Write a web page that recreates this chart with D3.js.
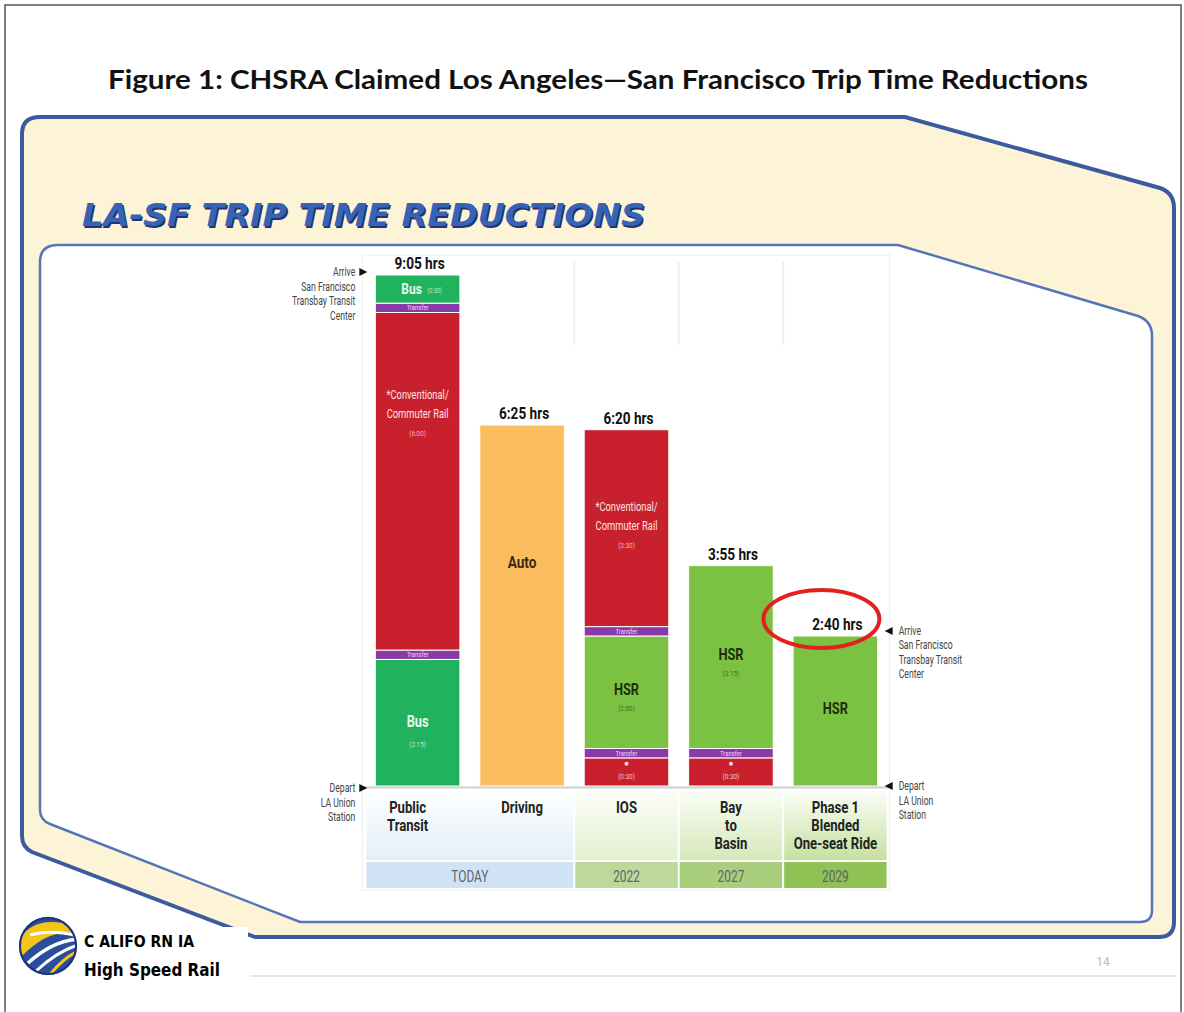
<!DOCTYPE html>
<html>
<head>
<meta charset="utf-8">
<script src="https://cdn.jsdelivr.net/npm/d3@7"></script>
<style>
  html, body { margin: 0; padding: 0; background: #fff; }
  svg { display: block; }
</style>
</head>
<body>
<div id="chart"></div>
<script>
// Bars, bottom leg first. [mode, minutes, time shown in the bar]
var categories = ['Public Transit', 'Driving', 'IOS', 'Bay to Basin', 'Phase 1 Blended One-seat Ride'];
var categoryLines = [['Public', 'Transit'], ['Driving'], ['IOS'], ['Bay', 'to', 'Basin'], ['Phase 1', 'Blended', 'One-seat Ride']];
var totalLabels = ['9:05 hrs', '6:25 hrs', '6:20 hrs', '3:55 hrs', '2:40 hrs'];

var publicTransitLegs = [['bus', 135, '(2:15)'], ['transfer', 10, ''], ['rail', 360, '(6:00)'], ['transfer', 10, ''], ['busTop', 30, '(0:30)']];
var drivingLegs = [['auto', 385, '']];
var iosLegs = [['railShort', 30, '(0:30)'], ['transfer', 10, ''], ['hsr', 120, '(2:00)'], ['transfer', 10, ''], ['rail', 210, '(3:30)']];
var bayToBasinLegs = [['railShort', 30, '(0:30)'], ['transfer', 10, ''], ['hsr', 195, '(3:15)']];
var phase1Legs = [['hsr', 160, '']];

var eraLabels = ['TODAY', '2022', '2027', '2029'];
var eraSpans = [[0, 1], [2, 2], [3, 3], [4, 4]];

(function() {
    'use strict';

    var W = 1184, H = 1012;
    var allLegs = [publicTransitLegs, drivingLegs, iosLegs, bayToBasinLegs, phase1Legs];

    var modeColors = {
        bus: '#20b25c', busTop: '#20b25c',
        transfer: '#8a3aa6',
        rail: '#c8202c', railShort: '#c8202c',
        auto: '#fbbd5e',
        hsr: '#7cc242'
    };

    var svg = d3.select('#chart').append('svg')
        .attr('width', W).attr('height', H)
        .attr('viewBox', [0, 0, W, H].join(' '));

    var defs = svg.append('defs');

    // condensed-looking text: normal font squeezed horizontally
    function label(parent, x, y, str, o) {
        o = o || {};
        return parent.append('text')
            .attr('transform', 'translate(' + x + ',' + y + ') scale(' + (o.sx || 0.8) + ',1)')
            .attr('text-anchor', o.anchor || 'middle')
            .attr('font-family', o.family || 'Roboto, "Open Sans", sans-serif')
            .attr('font-size', o.size || 12)
            .attr('font-weight', o.weight || 400)
            .attr('fill', o.fill || '#222')
            .text(str);
    }

    // Page frame
    svg.append('rect')
        .attr('x', 5).attr('y', 5).attr('width', 1176).attr('height', 1030)
        .attr('fill', '#fff').attr('stroke', '#555').attr('stroke-width', 1.5);

    svg.append('text')
        .attr('x', 598).attr('y', 89)
        .attr('text-anchor', 'middle')
        .attr('font-family', 'Lato, "Open Sans", sans-serif')
        .attr('font-weight', 700).attr('font-size', 26)
        .attr('textLength', 980).attr('lengthAdjust', 'spacingAndGlyphs')
        .attr('fill', '#111')
        .text('Figure 1: CHSRA Claimed Los Angeles\u2014San Francisco Trip Time Reductions');

    // Slide shapes
    svg.append('path')
        .attr('d', 'M22,134 Q22,117 40,117 L905,117 L1160,188 Q1174,193 1174,208 L1174,922 Q1174,937 1159,937 L255,937 L32,852 Q22,847 22,836 Z')
        .attr('fill', '#fdf4d8').attr('stroke', '#3d5a9e').attr('stroke-width', 4);
    svg.append('path')
        .attr('d', 'M40,262 Q40,245 58,245 L898,245 L1138,316 Q1152,321 1152,336 L1152,910 Q1152,922 1140,922 L300,922 L50,824 Q40,820 40,810 Z')
        .attr('fill', '#fff').attr('stroke', '#5575b8').attr('stroke-width', 2.5);

    // Slide heading with a dark shadow
    [['#1f3470', 1.5], ['#3663b5', 0]].forEach(function(s) {
        svg.append('text')
            .attr('x', 82 + s[1]).attr('y', 226 + s[1])
            .attr('font-family', '"DejaVu Sans", Verdana, sans-serif')
            .attr('font-style', 'italic').attr('font-weight', 700).attr('font-size', 32)
            .attr('textLength', 563).attr('lengthAdjust', 'spacingAndGlyphs')
            .attr('fill', s[0])
            .text('LA-SF TRIP TIME REDUCTIONS');
    });

    // Scales
    var x = d3.scaleBand().domain(categories).range([368, 885]).paddingInner(0.19).paddingOuter(0.07);
    var y = d3.scaleLinear().domain([0, 545]).range([786, 275]);
    var bw = x.bandwidth();
    var step = x.step();

    // Chart panel
    var panelL = x(categories[0]) - 13, panelR = x(categories[4]) + bw + 12;
    svg.append('rect')
        .attr('x', panelL).attr('y', 255).attr('width', panelR - panelL).attr('height', 635)
        .attr('fill', '#fff').attr('stroke', '#ececec');

    // faint column separators at the top of the panel
    categories.slice(2).forEach(function(c) {
        var sx = x(c) - (step - bw) / 2;
        svg.append('line')
            .attr('x1', sx).attr('x2', sx).attr('y1', 262).attr('y2', 345)
            .attr('stroke', '#f0f0f0').attr('stroke-width', 2);
    });

    // Bottom label backgrounds
    var gBlue = defs.append('linearGradient').attr('id', 'gBlue').attr('x1', 0).attr('y1', 0).attr('x2', 0).attr('y2', 1);
    gBlue.append('stop').attr('offset', '0%').attr('stop-color', '#ffffff');
    gBlue.append('stop').attr('offset', '100%').attr('stop-color', '#e2eff9');
    var greens = ['#e3efd0', '#d5e8b8', '#c6e0a0'];
    greens.forEach(function(c, i) {
        var g = defs.append('linearGradient').attr('id', 'gGreen' + i).attr('x1', 0).attr('y1', 0).attr('x2', 0).attr('y2', 1);
        g.append('stop').attr('offset', '0%').attr('stop-color', '#fbfdf6');
        g.append('stop').attr('offset', '100%').attr('stop-color', c);
    });
    var eraFill = ['#cfe3f5', '#bcd99a', '#a9cf7c', '#8fc155'];
    var eraG = svg.append('g');
    eraSpans.forEach(function(span, i) {
        var x0 = x(categories[span[0]]) - (step - bw) / 2 + 1;
        var x1 = x(categories[span[1]]) + bw + (step - bw) / 2 - 1;
        eraG.append('rect')
            .attr('x', x0).attr('y', 791).attr('width', x1 - x0).attr('height', 69)
            .attr('fill', i === 0 ? 'url(#gBlue)' : 'url(#gGreen' + (i - 1) + ')');
        eraG.append('rect')
            .attr('x', x0).attr('y', 862).attr('width', x1 - x0).attr('height', 26)
            .attr('fill', eraFill[i]);
        label(eraG, (x0 + x1) / 2, 882, eraLabels[i], { size: 17, fill: '#5d6470', sx: 0.7 });
    });

    // Bars
    var barsG = svg.append('g');
    allLegs.forEach(function(legs, ci) {
        var cx = x(categories[ci]) + bw / 2;
        var acc = 0;
        var stacked = legs.map(function(l) {
            var s = { mode: l[0], min: l[1], time: l[2], y0: acc, y1: acc + l[1] };
            acc += l[1];
            return s;
        });
        var col = barsG.append('g');
        col.selectAll('rect')
            .data(stacked)
            .join('rect')
            .attr('x', x(categories[ci]))
            .attr('width', bw)
            .attr('y', function(d) { return y(d.y1); })
            .attr('height', function(d) { return y(d.y0) - y(d.y1); })
            .attr('fill', function(d) { return modeColors[d.mode]; })
            .attr('stroke', '#fff').attr('stroke-width', 1);

        stacked.forEach(function(d) {
            var top = y(d.y1), bot = y(d.y0), mid = (top + bot) / 2;
            if (d.mode === 'transfer') {
                label(col, cx, mid + 2.5, 'Transfer', { size: 7, fill: '#f0d8f5', sx: 0.85 });
            } else if (d.mode === 'busTop') {
                label(col, cx - 6, mid + 5, 'Bus', { size: 15, weight: 700, fill: '#e8f8ee' });
                label(col, cx + 17, mid + 4, d.time, { size: 7, fill: '#bfeacd' });
            } else if (d.mode === 'bus') {
                label(col, cx, mid + 4, 'Bus', { size: 16, weight: 700, fill: '#e8f8ee' });
                label(col, cx, mid + 24, d.time, { size: 8, fill: '#bfeacd' });
            } else if (d.mode === 'rail') {
                var ly = Math.min(mid, top + 103);
                label(col, cx, ly - 17, '*Conventional/', { size: 12, fill: '#fbe3e3', sx: 0.78 });
                label(col, cx, ly + 2, 'Commuter Rail', { size: 12, fill: '#fbe3e3', sx: 0.78 });
                label(col, cx, ly + 20, d.time, { size: 8, fill: '#f2b9b9' });
            } else if (d.mode === 'railShort') {
                col.append('circle').attr('cx', cx).attr('cy', top + 6).attr('r', 2).attr('fill', '#fde');
                label(col, cx, top + 21, d.time, { size: 8, fill: '#f6c9c9' });
            } else if (d.mode === 'hsr') {
                label(col, cx, mid + 3, 'HSR', { size: 16, weight: 700, fill: '#1f2d10' });
                if (d.time) label(col, cx, mid + 19, d.time, { size: 8, fill: '#4c6b2a' });
            } else if (d.mode === 'auto') {
                label(col, cx, 568, 'Auto', { size: 17, weight: 700, fill: '#3a2a10' });
            }
        });

        label(barsG, cx + 2, y(acc) - 6, totalLabels[ci], { size: 17, weight: 700, fill: '#111', sx: 0.8 });

        categoryLines[ci].forEach(function(t, li) {
            label(barsG, ci === 0 ? cx - 10 : cx, 813 + li * 18, t, { size: 16, weight: 700, fill: '#222', sx: 0.82 });
        });
    });

    // Baseline
    svg.append('line')
        .attr('x1', panelL).attr('x2', panelR)
        .attr('y1', y(0) + 1.5).attr('y2', y(0) + 1.5)
        .attr('stroke', '#cfcfcf').attr('stroke-width', 2);

    // Arrive / Depart notes
    var notes = svg.append('g');
    function note(xText, yTop, lines, side) {
        var ax = side === 'left' ? xText + 4 : xText - 4;
        var tri = side === 'left'
            ? [[ax, yTop - 8], [ax + 8, yTop - 4], [ax, yTop]]
            : [[ax, yTop - 8], [ax - 8, yTop - 4], [ax, yTop]];
        notes.append('path').attr('d', d3.line()(tri) + 'Z').attr('fill', '#111');
        lines.forEach(function(t, i) {
            label(notes, xText + (side === 'left' ? 0 : 2), yTop + i * 14.5, t, {
                size: 12, fill: '#444', anchor: side === 'left' ? 'end' : 'start', sx: 0.72
            });
        });
    }
    var leftX = x(categories[0]) - 20;
    var rightX = x(categories[4]) + bw + 19;
    note(leftX, y(545) + 1, ['Arrive', 'San Francisco', 'Transbay Transit', 'Center'], 'left');
    note(leftX, y(0) + 6, ['Depart', 'LA Union', 'Station'], 'left');
    note(rightX, y(160) - 1, ['Arrive', 'San Francisco', 'Transbay Transit', 'Center'], 'right');
    note(rightX, y(0) + 4, ['Depart', 'LA Union', 'Station'], 'right');

    // Highlight ring round 2:40 hrs
    svg.append('ellipse')
        .attr('cx', x(categories[4]) + bw / 2 - 14).attr('cy', y(160) - 17)
        .attr('rx', 58).attr('ry', 29)
        .attr('fill', 'none').attr('stroke', '#e3201f').attr('stroke-width', 4);

    // Footer: logo, page number
    svg.append('line')
        .attr('x1', 250).attr('x2', 1176).attr('y1', 976).attr('y2', 976)
        .attr('stroke', '#e6e6e6').attr('stroke-width', 2);
    svg.append('rect').attr('x', 80).attr('y', 927).attr('width', 168).attr('height', 56).attr('fill', '#fff');

    defs.append('clipPath').attr('id', 'logoClip')
        .append('circle').attr('cx', 48).attr('cy', 946).attr('r', 28);
    var logo = svg.append('g');
    logo.append('circle').attr('cx', 48).attr('cy', 946).attr('r', 29).attr('fill', '#2c4d9c');
    var lc = logo.append('g').attr('clip-path', 'url(#logoClip)');
    lc.append('path').attr('d', 'M18,941 Q35,912 78,927 L78,934 Q50,927 22,956 Z').attr('fill', '#f5c518');
    lc.append('path').attr('d', 'M30,935 Q50,929 78,936').attr('fill', 'none').attr('stroke', '#fff').attr('stroke-width', 3);
    lc.append('path').attr('d', 'M28,963 Q52,941 78,939').attr('fill', 'none').attr('stroke', '#fff').attr('stroke-width', 3.5);
    lc.append('path').attr('d', 'M36,971 Q58,951 78,945').attr('fill', 'none').attr('stroke', '#fff').attr('stroke-width', 3);
    lc.append('path').attr('d', 'M48,977 Q62,959 78,951').attr('fill', 'none').attr('stroke', '#f5c518').attr('stroke-width', 3);
    logo.append('circle').attr('cx', 48).attr('cy', 946).attr('r', 28).attr('fill', 'none').attr('stroke', '#1c3479').attr('stroke-width', 2);

    svg.append('text')
        .attr('x', 84).attr('y', 947)
        .attr('font-family', '"DejaVu Sans", sans-serif').attr('font-weight', 700).attr('font-size', 16)
        .attr('textLength', 110).attr('lengthAdjust', 'spacingAndGlyphs')
        .attr('fill', '#000').text('C ALIFO RN IA');
    svg.append('text')
        .attr('x', 84).attr('y', 976)
        .attr('font-family', '"DejaVu Sans", sans-serif').attr('font-weight', 700).attr('font-size', 17)
        .attr('textLength', 136).attr('lengthAdjust', 'spacingAndGlyphs')
        .attr('fill', '#000').text('High Speed Rail');

    svg.append('text')
        .attr('x', 1103).attr('y', 966).attr('text-anchor', 'middle')
        .attr('font-family', 'Roboto, sans-serif').attr('font-size', 12)
        .attr('fill', '#bbb').text('14');
})();
</script>
</body>
</html>
